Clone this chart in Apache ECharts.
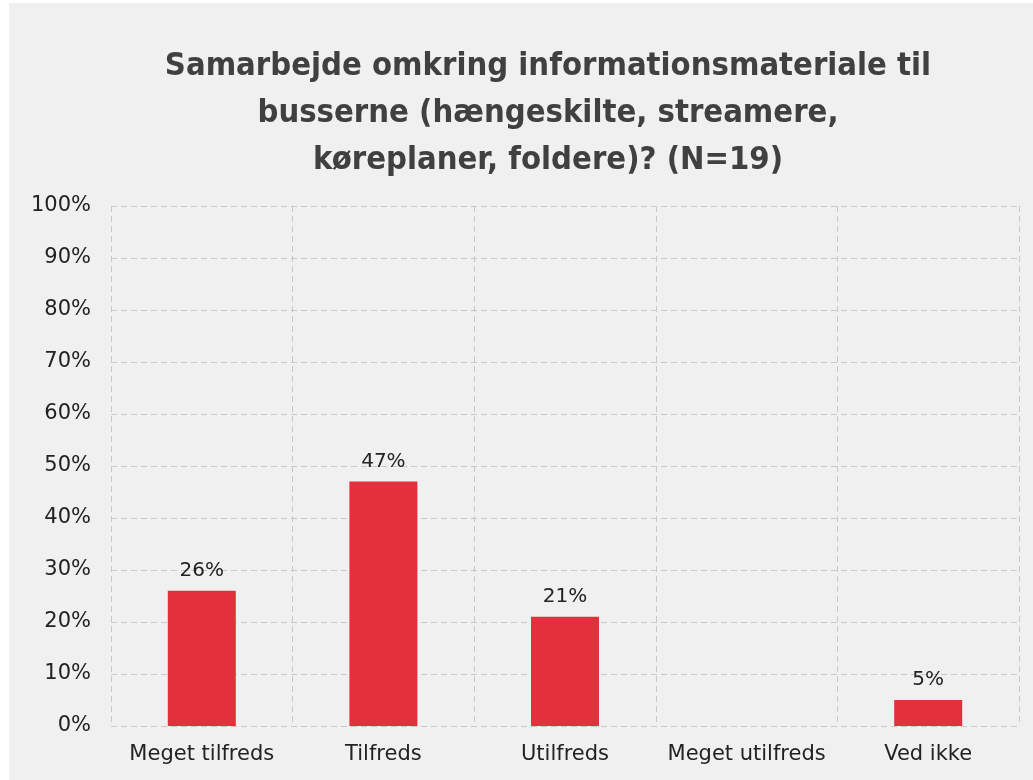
<!DOCTYPE html>
<html>
<head>
<meta charset="utf-8">
<script src="https://cdn.jsdelivr.net/npm/echarts@6/dist/echarts.min.js"></script>
<style>
  html, body { margin: 0; padding: 0; background: #ffffff; }
  #main { position: absolute; left: 9px; top: 3px; width: 1024px; height: 777px; background: #f0f0f0; }
</style>
</head>
<body>
<div id="main"></div>
<script>
var titleText = 'Samarbejde omkring informationsmateriale til\nbusserne (hængeskilte, streamere,\nkøreplaner, foldere)? (N=19)';
var categories = ['Meget tilfreds', 'Tilfreds', 'Utilfreds', 'Meget utilfreds', 'Ved ikke'];
var values = [26, 47, 21, 0, 5];
var yTicks = [0, 10, 20, 30, 40, 50, 60, 70, 80, 90, 100];

var myChart = echarts.init(document.getElementById('main'));
myChart.setOption({
    backgroundColor : '#f0f0f0',
    title : {
	text : titleText,
	left : 534,
	top : 35,
	textAlign : 'center',
	textStyle : {
	    fontFamily : 'DejaVu Sans Condensed',
	    fontWeight : 'bold',
	    fontSize : 32.5,
	    lineHeight : 47,
	    color : '#404040'
	}
    },
    grid : {
	left : 102,
	right : 14,
	top : 203,
	bottom : 54
    },
    xAxis : {
	type : 'category',
	data : categories,
	axisLine : { show : false },
	axisTick : { show : false },
	axisLabel : {
	    interval : 0,
	    margin : 18,
	    fontFamily : 'DejaVu Sans',
	    fontSize : 21,
	    color : '#222222'
	},
	splitLine : {
	    show : true,
	    interval : 0,
	    lineStyle : { color : '#c8c8c8', type : [6, 4], width : 1 }
	}
    },
    yAxis : {
	type : 'value',
	min : yTicks[0],
	max : yTicks[yTicks.length - 1],
	interval : 10,
	axisLine : { show : false },
	axisTick : { show : false },
	axisLabel : {
	    margin : 20,
	    formatter : '{value}%',
	    fontFamily : 'DejaVu Sans',
	    fontSize : 21,
	    color : '#222222'
	},
	splitLine : {
	    lineStyle : { color : '#c8c8c8', type : [6, 4], width : 1 }
	}
    },
    series : [ {
	type : 'bar',
	data : values,
	barWidth : 68,
	itemStyle : { color : '#e3303d' },
	label : {
	    show : true,
	    position : 'top',
	    distance : 10,
	    fontFamily : 'DejaVu Sans',
	    fontSize : 20,
	    color : '#222222',
	    formatter : function(p) {
		return p.value ? p.value + '%' : '';
	    }
	}
    } ]
});
</script>
</body>
</html>
